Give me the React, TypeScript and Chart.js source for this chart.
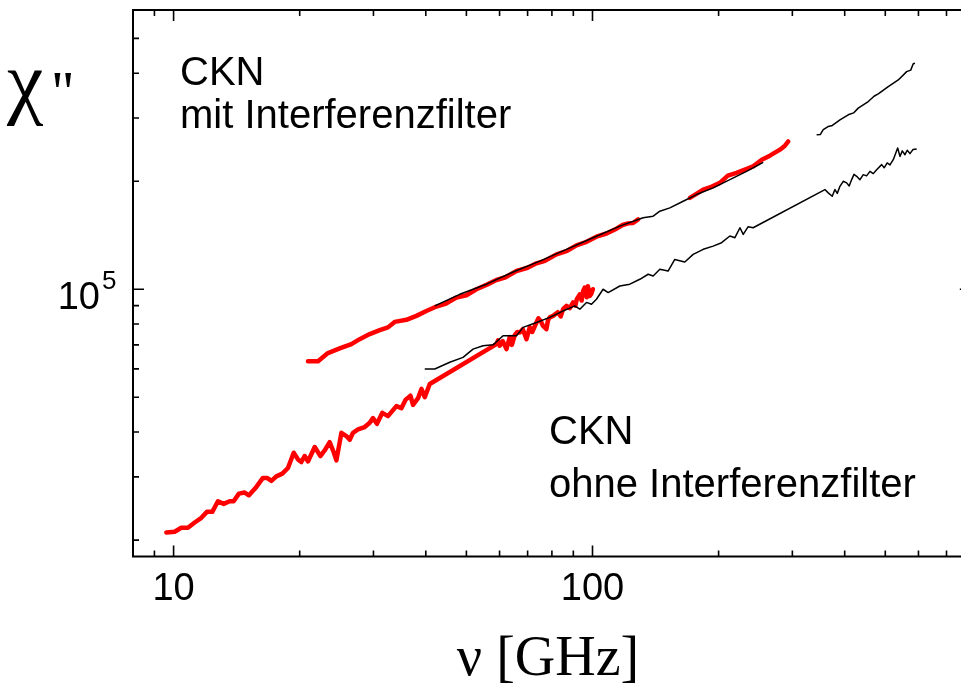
import React, { useEffect, useRef } from "react";
import { Chart, registerables } from "chart.js";

Chart.register(...registerables);

const CANVAS_W = 980;
const CANVAS_H = 684;

// ---- data (frequency in GHz, chi'' in arbitrary units) ----
const nuRedOhne = [
  9.61, 10.06, 10.43, 10.82, 11.23, 11.65, 12.01, 12.37, 12.76, 13.17, 13.61, 13.91, 14.32, 14.78, 15.13,
  15.76, 16.34, 16.71, 17.12, 17.59, 18.18, 18.75, 19.35, 19.81, 20.18, 20.55, 20.93, 21.72, 22.41, 22.94,
  23.58, 24.1, 24.47, 25.15, 25.85, 26.33, 26.81, 27.56, 28.59, 29.39, 29.92, 30.58, 31.5, 32.49, 34.03,
  34.98, 35.82, 36.76, 37.29, 38.33, 39.05, 39.77, 40.88, 58.98, 59.5, 60.06, 61.07, 62.32, 63.46, 64.2,
  65.22, 66.1, 67.05, 68.16, 69.57, 70.84, 71.8, 73.49, 74.3, 75.24, 76.2, 77.63, 78.3, 79.07, 80.52,
  82.62, 84.0, 85.07, 86.68, 88.27, 89.89, 91.0, 91.73, 93.26, 94.2, 94.96, 95.85, 96.92, 97.5, 98.53,
  99.3, 100.2,
];
const chiRedOhne = [
  2.1e4, 2.11e4, 2.165e4, 2.165e4, 2.239e4, 2.307e4, 2.397e4, 2.397e4, 2.566e4, 2.523e4, 2.566e4, 2.566e4, 2.695e4, 2.713e4, 2.666e4,
  2.813e4, 2.98e4, 2.98e4, 2.923e4, 3.01e4, 3.063e4, 3.176e4, 3.503e4, 3.356e4, 3.3e4, 3.43e4, 3.313e4, 3.633e4, 3.43e4, 3.554e4,
  3.75e4, 3.519e4, 3.335e4, 3.981e4, 3.898e4, 3.807e4, 3.981e4, 4.067e4, 4.13e4, 4.245e4, 4.374e4, 4.217e4, 4.524e4, 4.43e4, 4.723e4,
  4.663e4, 4.926e4, 5.053e4, 4.762e4, 4.97e4, 5.275e4, 5.0e4, 5.446e4, 7.035e4, 7.2e4, 6.96e4, 7.17e4, 6.81e4, 7.36e4, 7.0e4,
  7.45e4, 7.6e4, 7.58e4, 7.74e4, 7.26e4, 7.84e4, 7.6e4, 8.08e4, 8.3e4, 8.15e4, 7.9e4, 7.74e4, 8.2e4, 8.35e4, 8.43e4,
  8.63e4, 8.4e4, 8.8e4, 8.99e4, 8.86e4, 9.19e4, 9.0e4, 9.38e4, 9.68e4, 9.3e4, 9.89e4, 1.011e5, 9.5e4, 1.02e5, 9.58e4,
  9.7e4, 1.0e5,
];

const nuBlackOhne = [
  39.77, 42.02, 45.63, 49.08, 51.86, 54.79, 57.88, 61.16, 64.06, 65.84, 68.29, 73.49, 79.07, 85.07, 90.72,
  93.26, 96.76, 99.45, 102.2, 106.0, 109.0, 116.2, 122.8, 129.7, 135.8, 139.6, 144.8, 151.5, 157.2, 166.1,
  173.9, 183.8, 194.1, 203.3, 212.8, 218.8, 224.9, 229.0, 235.3, 241.8, 358.8, 365.4, 373.5, 379.1, 384.0,
  389.7, 396.8, 404.3, 410.0, 415.6, 421.0, 427.2, 435.0, 443.0, 451.0, 459.6, 468.0, 476.8, 490.1, 497.0,
  505.2, 513.0, 522.4, 535.2, 542.0, 549.0, 557.1, 564.0, 572.7, 582.0, 594.2,
];
const chiBlackOhne = [
  5.995e4, 5.995e4, 6.26e4, 6.46e4, 6.81e4, 6.96e4, 7.0e4, 7.42e4, 7.42e4, 7.42e4, 7.83e4, 8.08e4, 8.35e4, 8.7e4, 8.99e4,
  8.8e4, 9.19e4, 9.08e4, 9.38e4, 1.0e5, 9.79e4, 1.021e5, 1.033e5, 1.066e5, 1.101e5, 1.089e5, 1.137e5, 1.124e5, 1.211e5, 1.191e5,
  1.251e5, 1.292e5, 1.319e5, 1.348e5, 1.407e5, 1.392e5, 1.484e5, 1.422e5, 1.494e5, 1.484e5, 1.896e5, 1.856e5, 1.816e5, 1.896e5, 1.85e5,
  1.936e5, 1.999e5, 1.979e5, 1.94e5, 2.021e5, 2.09e5, 2.064e5, 2.02e5, 2.086e5, 2.07e5, 2.131e5, 2.1e5, 2.154e5, 2.225e5, 2.18e5,
  2.249e5, 2.22e5, 2.296e5, 2.476e5, 2.345e5, 2.43e5, 2.371e5, 2.44e5, 2.387e5, 2.45e5, 2.46e5,
];

const nuRedMitA = [
  20.93, 22.12, 23.36, 24.92, 26.58, 27.81, 29.39, 31.05, 32.49, 33.71, 35.95, 37.98, 40.13, 42.41, 44.5,
  47.33, 50.0, 52.84, 56.0, 58.98, 62.0, 65.84, 70.0, 73.49, 77.0, 82.04, 87.0, 91.58, 96.0, 102.2,
  108.0, 114.1, 118.0, 121.6, 125.0, 128.5,
];
const chiRedMitA = [
  6.3e4, 6.3e4, 6.64e4, 6.84e4, 7.035e4, 7.26e4, 7.5e4, 7.69e4, 7.83e4, 8.11e4, 8.22e4, 8.43e4, 8.7e4, 8.95e4, 9.1e4,
  9.48e4, 9.62e4, 1.0e5, 1.03e5, 1.061e5, 1.08e5, 1.124e5, 1.148e5, 1.181e5, 1.2e5, 1.251e5, 1.28e5, 1.325e5, 1.35e5, 1.401e5,
  1.43e5, 1.475e5, 1.51e5, 1.526e5, 1.53e5, 1.565e5,
];

const nuRedMitB = [170.8, 183.8, 192.8, 201.4, 210.4, 220.8, 231.1, 241.8, 253.6, 265.1, 280.2, 288.0, 293.3];
const chiRedMitB = [1.798e5, 1.896e5, 1.933e5, 1.979e5, 2.074e5, 2.11e5, 2.154e5, 2.2e5, 2.296e5, 2.356e5, 2.449e5, 2.512e5, 2.582e5];

const nuBlackMitA = [
  42.02, 48.2, 55.84, 64.63, 74.84, 86.68, 100.3, 116.2, 132.1, 139.6, 144.8, 153.0, 164.6, 177.2, 194.1,
  212.8, 233.2, 255.6,
];
const chiBlackMitA = [
  8.99e4, 9.68e4, 1.033e5, 1.117e5, 1.198e5, 1.292e5, 1.392e5, 1.499e5, 1.582e5, 1.598e5, 1.65e5, 1.686e5, 1.759e5, 1.836e5, 1.917e5,
  2.021e5, 2.131e5, 2.257e5,
];

const nuBlackMitB = [342.8, 350.0, 355.5, 365.0, 372.3, 389.7, 407.9, 420.0, 430.9, 455.3, 470.0, 481.0, 508.2, 537.0, 562.3, 575.0, 583.0, 588.7];
const chiBlackMitB = [2.695e5, 2.7e5, 2.783e5, 2.84e5, 2.854e5, 2.966e5, 3.063e5, 3.1e5, 3.197e5, 3.335e5, 3.45e5, 3.503e5, 3.671e5, 3.831e5, 4.04e5, 4.08e5, 4.25e5, 4.264e5];

// ---- axes ----
const xMin = 8;
const xMax = 800;
const yMin = 1.8e4;
const yMax = 6e5;
const xMajorTicks = [10, 100];
const xTickLabels = ["10", "100"];
const xMinorTicks = [9, 20, 30, 40, 50, 60, 70, 80, 90, 200, 300, 400, 500, 600, 700];
const yMajorTicks = [1e5];
const yMinorTicks = [2e4, 3e4, 4e4, 5e4, 6e4, 7e4, 8e4, 9e4, 2e5, 3e5, 4e5, 5e5];

const xTitle = "ν [GHz]";
const yTitle = "χ";
const yTitlePrimes = "''";
const annotTop = ["CKN", "mit Interferenzfilter"];
const annotBottom = ["CKN", "ohne Interferenzfilter"];

const SANS = '"Liberation Sans", Arial, sans-serif';
const SERIF = '"Liberation Serif", "Times New Roman", serif';

function pts(xs: number[], ys: number[]) {
  return xs.map((x, i) => ({ x, y: ys[i] }));
}

const framePlugin = {
  id: "frame",
  afterDatasetsDraw(chart: any) {
    const ctx = chart.ctx as CanvasRenderingContext2D;
    const { left, right, top, bottom } = chart.chartArea;
    const xs = chart.scales.x;
    const ys = chart.scales.y;
    ctx.save();
    ctx.strokeStyle = "#000";
    ctx.lineWidth = 2;
    ctx.beginPath();
    ctx.rect(left, top, right - left, bottom - top);
    ctx.stroke();

    ctx.lineWidth = 1.6;
    const MAJ = 11;
    const MIN = 6;
    ctx.beginPath();
    const xTick = (v: number, len: number) => {
      const px = xs.getPixelForValue(v);
      ctx.moveTo(px, bottom);
      ctx.lineTo(px, bottom - len);
      ctx.moveTo(px, top);
      ctx.lineTo(px, top + len);
    };
    const yTick = (v: number, len: number) => {
      const py = ys.getPixelForValue(v);
      ctx.moveTo(left, py);
      ctx.lineTo(left + len, py);
      ctx.moveTo(right, py);
      ctx.lineTo(right - len, py);
    };
    xMajorTicks.forEach((v) => xTick(v, MAJ));
    xMinorTicks.forEach((v) => xTick(v, MIN));
    yMajorTicks.forEach((v) => yTick(v, MAJ));
    yMinorTicks.forEach((v) => yTick(v, MIN));
    ctx.stroke();

    ctx.fillStyle = "#000";
    ctx.textBaseline = "alphabetic";
    // x tick labels
    ctx.font = `38px ${SANS}`;
    ctx.textAlign = "center";
    xMajorTicks.forEach((v, i) => {
      ctx.fillText(xTickLabels[i], xs.getPixelForValue(v), bottom + 43);
    });
    // y tick label 10^5
    yMajorTicks.forEach((v) => {
      const py = ys.getPixelForValue(v);
      const exp = String(Math.round(Math.log10(v)));
      ctx.font = `38px ${SANS}`;
      ctx.textAlign = "right";
      ctx.fillText("10", left - 33, py + 20);
      ctx.font = `26px ${SANS}`;
      ctx.textAlign = "left";
      ctx.fillText(exp, left - 31, py);
    });

    // annotations
    ctx.font = `40px ${SANS}`;
    ctx.textAlign = "left";
    ctx.fillText(annotTop[0], 180, 85);
    ctx.fillText(annotTop[1], 180, 128);
    ctx.fillText(annotBottom[0], 549, 444);
    ctx.fillText(annotBottom[1], 549, 497);

    // axis titles
    ctx.font = `82px ${SERIF}`;
    ctx.fillText(yTitle, 7, 108);
    ctx.font = `60px ${SERIF}`;
    ctx.fillText(yTitlePrimes, 52, 112);
    ctx.font = `56px ${SERIF}`;
    ctx.textAlign = "center";
    ctx.fillText(xTitle, 548, 675);
    ctx.restore();
  },
};

export default function App() {
  const ref = useRef<HTMLCanvasElement | null>(null);
  useEffect(() => {
    if (!ref.current) return;
    const black = { borderColor: "#000", borderWidth: 1.5, pointRadius: 0, tension: 0, fill: false, borderJoinStyle: "round" as const };
    const red = { borderColor: "#ff0000", borderWidth: 4.5, pointRadius: 0, tension: 0, fill: false, borderJoinStyle: "round" as const, borderCapStyle: "round" as const };
    const chart = new Chart(ref.current, {
      type: "line",
      data: {
        datasets: [
          { label: "mit (schwarz) A", data: pts(nuBlackMitA, chiBlackMitA), ...black },
          { label: "mit (schwarz) B", data: pts(nuBlackMitB, chiBlackMitB), ...black },
          { label: "ohne (schwarz)", data: pts(nuBlackOhne, chiBlackOhne), ...black },
          { label: "mit (rot) A", data: pts(nuRedMitA, chiRedMitA), ...red },
          { label: "mit (rot) B", data: pts(nuRedMitB, chiRedMitB), ...red },
          { label: "ohne (rot)", data: pts(nuRedOhne, chiRedOhne), ...red },
        ],
      },
      options: {
        animation: false,
        responsive: false,
        devicePixelRatio: 1,
        parsing: false as any,
        layout: { padding: { left: 133, top: 10, right: CANVAS_W - 970.8, bottom: CANVAS_H - 556.5 } },
        plugins: { legend: { display: false }, tooltip: { enabled: false } },
        scales: {
          x: { type: "logarithmic", min: xMin, max: xMax, display: false },
          y: { type: "logarithmic", min: yMin, max: yMax, display: false },
        },
      },
      plugins: [framePlugin],
    });
    return () => chart.destroy();
  }, []);
  return (
    <div style={{ position: "fixed", left: 0, top: 0, width: 961, height: 684, overflow: "hidden", background: "#fff" }}>
      <canvas ref={ref} width={CANVAS_W} height={CANVAS_H} style={{ display: "block", width: CANVAS_W, height: CANVAS_H }} />
    </div>
  );
}
